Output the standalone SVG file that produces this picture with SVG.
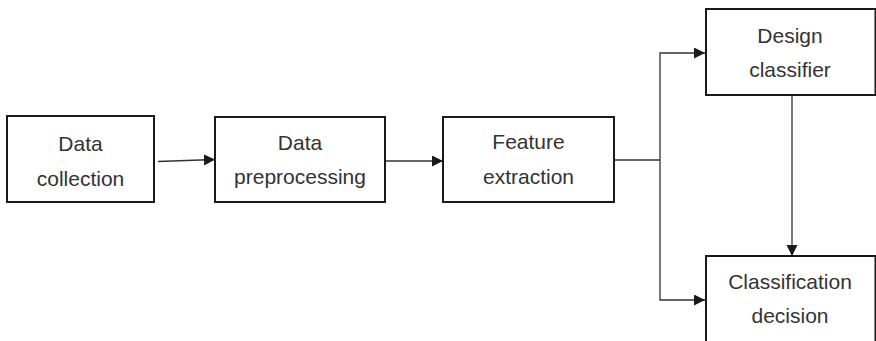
<svg xmlns="http://www.w3.org/2000/svg" width="876" height="341" viewBox="0 0 876 341">
  <style>
    .box { fill: #ffffff; stroke: #1a1a1a; stroke-width: 2; }
    .label { font-family: "Liberation Sans", Arial, sans-serif; font-size: 21px; fill: #333333; text-anchor: middle; }
    .link { fill: none; stroke: #333333; stroke-width: 1.3; }
  </style>
  <defs>
    <marker id="arrow" markerUnits="userSpaceOnUse" markerWidth="12" markerHeight="12" refX="11" refY="5.5" orient="auto">
      <path d="M0,0 L11,5.5 L0,11 z" fill="#1a1a1a"/>
    </marker>
  </defs>
  <rect width="876" height="341" fill="#ffffff"/>

  <g id="connectors">
    <line class="link" x1="158" y1="161.5" x2="215" y2="159.5" marker-end="url(#arrow)"/>
    <line class="link" x1="385" y1="161" x2="443" y2="161" marker-end="url(#arrow)"/>
    <polyline class="link" points="614,160 660,160"/>
    <polyline class="link" points="660,160 660,53 705,53" marker-end="url(#arrow)"/>
    <polyline class="link" points="660,160 660,300 705,300" marker-end="url(#arrow)"/>
    <line class="link" x1="792" y1="95" x2="792" y2="256" marker-end="url(#arrow)"/>
  </g>

  <g id="data-collection">
    <rect class="box" x="7" y="116" width="147" height="86"/>
    <text class="label" x="80.5" y="151">Data</text>
    <text class="label" x="80.5" y="186">collection</text>
  </g>

  <g id="data-preprocessing">
    <rect class="box" x="215" y="117" width="170" height="85"/>
    <text class="label" x="300" y="150">Data</text>
    <text class="label" x="300" y="184">preprocessing</text>
  </g>

  <g id="feature-extraction">
    <rect class="box" x="443" y="117" width="171" height="85"/>
    <text class="label" x="528.5" y="149">Feature</text>
    <text class="label" x="528.5" y="184">extraction</text>
  </g>

  <g id="design-classifier">
    <rect class="box" x="706" y="9" width="169.5" height="86"/>
    <text class="label" x="790" y="43">Design</text>
    <text class="label" x="790" y="77">classifier</text>
  </g>

  <g id="classification-decision">
    <rect class="box" x="706" y="256" width="169.5" height="90"/>
    <text class="label" x="790" y="289">Classification</text>
    <text class="label" x="790" y="323">decision</text>
  </g>
</svg>
